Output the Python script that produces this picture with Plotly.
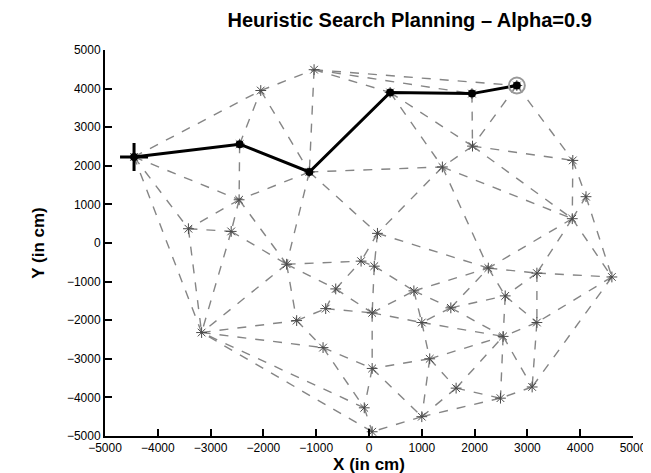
import plotly.graph_objects as go

# node positions (cm)
node_x = [-4450, -2450, -1130, 400, 1950, 2800, -2050, -1040, 1960, 1390,
          3860, 3850, 4600, -2460, -3420, -2610, 160, -1560, -3170, -630,
          -150, 100, 60, 850, 1550, 1000, 2260, 3180, 2580, 3180,
          2540, 1150, 60, 1650, 1000, -90, 2490, 3090, 60, -1370,
          -870, -820, 4110]
node_y = [2230, 2560, 1840, 3900, 3870, 4080, 3950, 4490, 2510, 1970,
          2140, 630, -880, 1120, 370, 300, 250, -550, -2320, -1190,
          -470, -600, -1810, -1240, -1680, -2060, -650, -780, -1370, -2060,
          -2420, -3000, -3250, -3760, -4500, -4270, -4020, -3730, -4890, -2010,
          -2710, -1700, 1200]

# mesh edges (node index pairs)
edges = [
    (0, 6), (6, 7), (7, 5), (5, 10), (10, 42), (42, 12), (12, 37), (37, 36),
    (36, 34), (34, 38), (38, 18), (18, 0), (35, 18), (35, 38),
    (0, 1), (1, 6), (6, 2), (1, 2), (7, 2), (7, 3), (2, 3), (3, 4), (4, 5),
    (7, 4), (3, 9), (3, 8), (4, 8), (5, 8), (8, 9), (8, 10), (2, 9), (8, 11),
    (9, 11), (10, 11), (11, 42), (11, 12),
    (0, 13), (0, 14), (1, 13), (2, 13), (13, 14), (13, 15), (14, 15), (14, 18),
    (15, 18), (15, 17), (13, 17), (2, 17), (17, 18), (17, 19), (17, 20),
    (17, 39), (18, 39), (18, 40), (39, 41), (39, 40), (41, 19), (41, 22),
    (40, 32), (40, 35), (19, 22), (19, 20),
    (2, 16), (9, 16), (16, 20), (16, 21), (16, 26), (20, 21), (21, 22),
    (21, 23), (22, 23), (22, 25), (22, 32), (23, 26), (23, 24), (23, 25),
    (24, 26), (24, 28), (24, 30), (24, 25), (25, 30), (25, 31), (31, 32),
    (31, 30), (31, 33), (31, 34), (32, 34), (32, 35), (33, 30), (33, 36),
    (33, 34), (26, 27), (27, 12), (26, 28), (27, 28), (27, 29), (12, 29),
    (28, 29), (28, 30), (29, 30), (29, 37), (30, 36), (30, 37), (9, 26),
    (11, 26), (11, 27),
]

# planned route through the mesh
path = [0, 1, 2, 3, 4, 5]

ex, ey = [], []
for a, b in edges:
    ex += [node_x[a], node_x[b], None]
    ey += [node_y[a], node_y[b], None]

fig = go.Figure()

fig.add_trace(go.Scatter(x=ex, y=ey, mode="lines",
                         line=dict(color="#858585", width=1.4, dash="dash"),
                         hoverinfo="skip"))

fig.add_trace(go.Scatter(x=node_x, y=node_y, mode="markers",
                         marker=dict(symbol="asterisk-open", size=9, color="#4a4a4a",
                                     line=dict(color="#4a4a4a", width=1))))

px_ = [node_x[i] for i in path]
py_ = [node_y[i] for i in path]
fig.add_trace(go.Scatter(x=px_, y=py_, mode="lines+markers",
                         line=dict(color="black", width=3),
                         marker=dict(symbol="circle", size=8, color="black")))

# start and goal markers
fig.add_trace(go.Scatter(x=[node_x[path[0]]], y=[node_y[path[0]]], mode="markers",
                         marker=dict(symbol="cross-thin-open", size=20, color="black",
                                     line=dict(color="black", width=3))))
fig.add_trace(go.Scatter(x=[node_x[path[-1]]], y=[node_y[path[-1]]], mode="markers",
                         marker=dict(symbol="circle-open", size=16, color="#999999",
                                     line=dict(color="#999999", width=2))))

axis_common = dict(range=[-5000, 5000], dtick=1000, showgrid=False, zeroline=False,
                   showline=True, linecolor="black", linewidth=2, mirror=False,
                   ticks="inside", ticklen=7, tickwidth=2, tickcolor="black",
                   tickfont=dict(family="Arial", size=12, color="black"))

fig.update_layout(
    width=651, height=473,
    margin=dict(l=97, r=18, t=42, b=42),
    paper_bgcolor="white", plot_bgcolor="white",
    showlegend=False,
    title=dict(text="<b>Heuristic Search Planning – Alpha=0.9</b>",
               x=0.617, xanchor="center", y=0.975, yanchor="middle",
               font=dict(family="Arial", size=20, color="black")),
    xaxis=dict(**axis_common,
               title=dict(text="<b>X (in cm)</b>", standoff=2,
                          font=dict(family="Arial", size=17, color="black"))),
    yaxis=dict(**axis_common,
               title=dict(text="<b>Y (in cm)</b>", standoff=18,
                          font=dict(family="Arial", size=17, color="black"))),
)

fig.write_html("out.html")
